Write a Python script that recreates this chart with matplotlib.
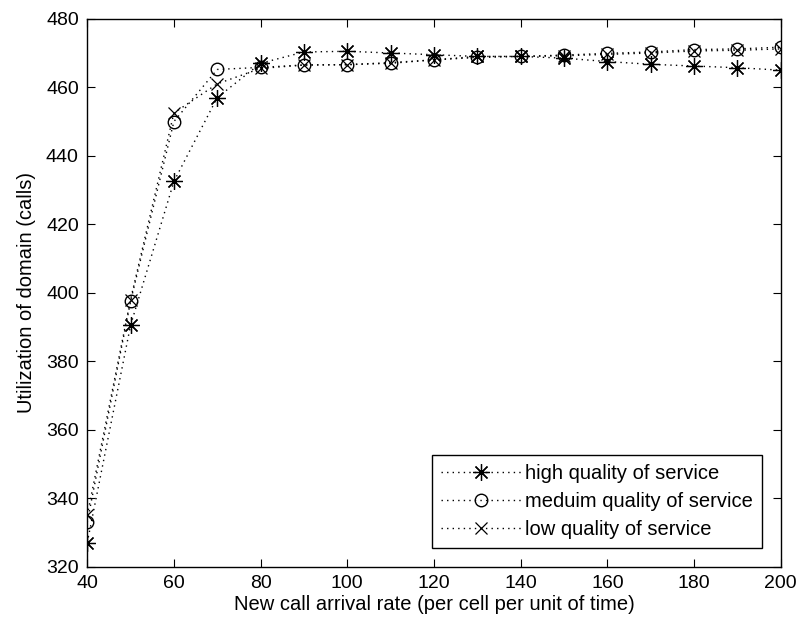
import matplotlib
matplotlib.use("Agg")
import matplotlib.pyplot as plt

rate = [40, 50, 60, 70, 80, 90, 100, 110, 120, 130, 140, 150, 160, 170, 180, 190, 200]
high = [327, 390.5, 432.5, 457, 467, 470.3, 470.5, 470, 469.5, 469, 469, 468.5, 467.5, 466.7, 466.2, 465.7, 465]
medium = [333, 397.5, 450, 465.2, 465.8, 466.5, 466.6, 467, 468, 468.7, 469, 469.4, 469.9, 470.3, 471, 471.2, 471.7]
low = [335, 398, 452.5, 461, 465.5, 466.5, 466.6, 467.2, 468, 469, 469, 469.2, 469.6, 470, 470.6, 470.8, 471.2]

labels = ["high quality of service", "meduim quality of service", "low quality of service"]
xticks = [40, 60, 80, 100, 120, 140, 160, 180, 200]
yticks = [320, 340, 360, 380, 400, 420, 440, 460, 480]

plt.rcParams['font.family'] = ['Liberation Sans', 'DejaVu Sans']
fig = plt.figure(figsize=(8, 6.25), dpi=100)
ax = fig.add_axes([0.109, 0.093, 0.867, 0.877])

dots = (0, (1, 3))
ax.plot(rate, high, linestyle=dots, color='k', lw=1, marker=(8, 2, 0), ms=12, mew=0.9, label=labels[0])
ax.plot(rate, medium, linestyle=dots, color='k', lw=1, marker='o', ms=9, mfc='none', mew=1, label=labels[1])
ax.plot(rate, low, linestyle=dots, color='k', lw=1, marker='x', ms=8, mew=0.9, label=labels[2])

ax.set_xlim(40, 200)
ax.set_ylim(320, 480)
ax.set_xticks(xticks)
ax.set_yticks(yticks)
ax.tick_params(direction='in', top=True, right=True, length=6, labelsize=14)
ax.tick_params(axis='y', pad=6)
ax.tick_params(axis='x', pad=6)
for s in ax.spines.values():
    s.set_linewidth(1)
ax.set_xlabel("New call arrival rate (per cell per unit of time)", fontsize=14.5, labelpad=2)
ax.set_ylabel("Utilization of domain (calls)", fontsize=14.5, labelpad=7)

leg = ax.legend(loc='lower right', fontsize=14.5, fancybox=False, framealpha=1,
                edgecolor='k', bbox_to_anchor=(0.9735, 0.034), handlelength=4.0,
                borderpad=0.45, labelspacing=0.45, handletextpad=0.2, borderaxespad=0)
leg.get_frame().set_linewidth(1)

fig.savefig("out.png", dpi=100)
